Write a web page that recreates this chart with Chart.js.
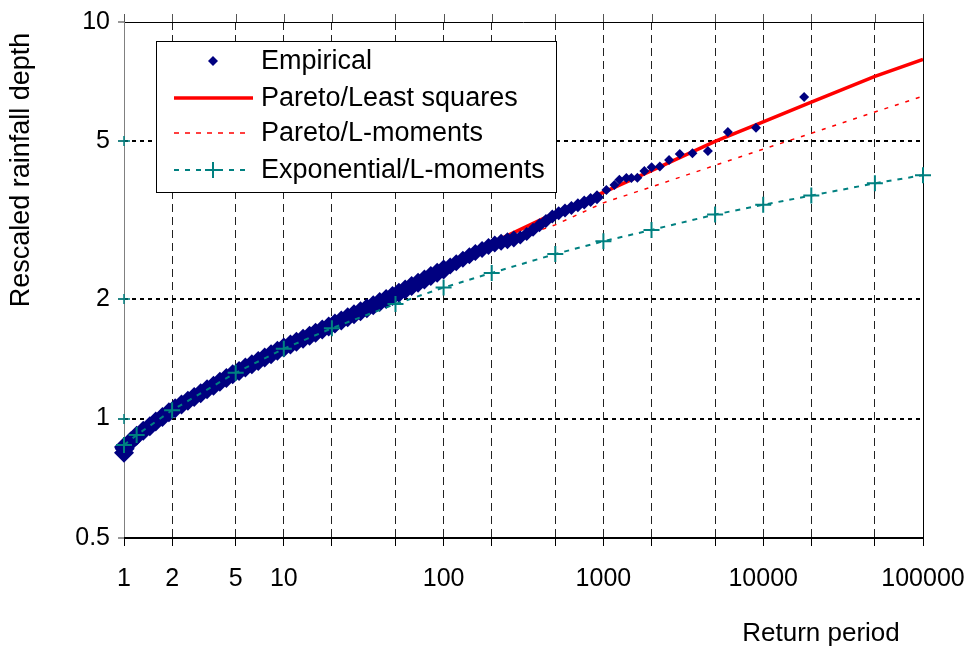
<!DOCTYPE html>
<html>
<head>
<meta charset="utf-8">
<script src="https://cdn.jsdelivr.net/npm/chart.js@4.4.1/dist/chart.umd.min.js"></script>
<style>
  html, body { margin: 0; padding: 0; background: #fff; }
  #wrap { width: 973px; height: 649px; }
</style>
</head>
<body>
<div id="wrap"><canvas id="rainChart" width="973" height="649"></canvas></div>
<script>
// --- data: return period (years) vs rescaled rainfall depth ---
const empT = [
  1, 1.01,
  1, 1.1, 1.2, 1.32, 1.45, 1.58, 1.74, 1.91, 2.09, 2.29,
  2.51, 2.75, 3.02, 3.31, 3.63, 3.98, 4.37, 4.79, 5.25, 5.75,
  6.31, 6.92, 7.59, 8.32, 9.12, 10, 11, 12, 13.2, 14.5,
  15.8, 17.4, 19.1, 20.9, 22.9, 25.1, 27.5, 30.2, 33.1, 36.3,
  39.8, 43.7, 47.9, 52.5, 57.5, 63.1, 69.2, 75.9, 83.2, 91.2,
  100, 110, 120, 132, 145, 158, 174, 191, 209, 229,
  251, 275, 302, 331, 363, 398, 437, 479, 525, 575,
  631, 692, 759, 832, 912,
  1044, 1172, 1259, 1393, 1496, 1632, 1804, 2003, 2254, 2576,
  3005, 3606, 4508, 6010, 9015, 18030
];
const empY = [
  0.82, 0.84,
  0.848, 0.876, 0.905, 0.932, 0.957, 0.983, 1.010, 1.037, 1.062, 1.086,
  1.110, 1.134, 1.159, 1.185, 1.211, 1.238, 1.265, 1.293, 1.319, 1.345,
  1.371, 1.398, 1.426, 1.454, 1.482, 1.511, 1.537, 1.563, 1.590, 1.618,
  1.647, 1.677, 1.707, 1.737, 1.768, 1.800, 1.832, 1.865, 1.898, 1.932,
  1.967, 2.002, 2.038, 2.077, 2.117, 2.158, 2.200, 2.243, 2.287, 2.331,
  2.377, 2.425, 2.473, 2.522, 2.573, 2.624, 2.671, 2.718, 2.754, 2.782,
  2.808, 2.835, 2.862, 2.919, 2.995, 3.072, 3.151, 3.233, 3.295, 3.346,
  3.398, 3.451, 3.505, 3.560, 3.615,
  3.77, 3.88, 4.00, 4.04, 4.04, 4.05, 4.21, 4.30, 4.32, 4.49,
  4.65, 4.67, 4.73, 5.28, 5.41, 6.47
];

const fitT = [1, 2, 5, 10, 20, 50, 100, 200, 500, 1000, 2000, 5000, 10000, 20000, 50000, 100000];
const paretoLsY = [0.85, 1.05, 1.30, 1.50, 1.72, 2.04, 2.36, 2.77, 3.30, 3.72, 4.22, 5.00, 5.60, 6.28, 7.29, 8.05];
const paretoLmY = [0.85, 1.05, 1.31, 1.51, 1.73, 2.05, 2.35, 2.71, 3.08, 3.50, 3.84, 4.35, 4.78, 5.24, 5.93, 6.50];

const expT = [1, 1.2, 2, 5, 10, 20, 50, 100, 200, 500, 1000, 2000, 5000, 10000, 20000, 50000, 100000];
const expY = [0.858, 0.909, 1.05, 1.305, 1.50, 1.69, 1.945, 2.14, 2.33, 2.60, 2.80, 2.99, 3.27, 3.46, 3.65, 3.92, 4.11];

const xTicks = [1, 2, 5, 10, 20, 50, 100, 200, 500, 1000, 2000, 5000, 10000, 20000, 50000, 100000];
const xLabels = [1, 2, 5, 10, 100, 1000, 10000, 100000];
const yTicks = [0.5, 1, 2, 5, 10];
const yCrossTicks = [1, 2, 5];

const NAVY = '#000080', RED = '#ff0000', TEAL = '#008080';
const FONT = 'Arial, "Liberation Sans", sans-serif';

const pts = (xs, ys) => xs.map((x, i) => ({ x: x, y: ys[i] }));

// the observations overlap into a solid band where they are dense
const empRadius = c => {
  const t = c.raw ? c.raw.x : 1;
  if (t <= 100) return 10;
  if (t <= 300) return 8.5;
  if (t <= 950) return 7;
  return 5;
};

// axis frame, little teal crosses on the y axis, titles and the boxed legend
const decorations = {
  id: 'decorations',
  beforeDatasetsDraw(chart) {
    const { ctx, chartArea: a, scales: { x } } = chart;
    ctx.save();
    ctx.lineWidth = 1;
    ctx.strokeStyle = '#555';
    xTicks.forEach(v => {
      const px = Math.round(x.getPixelForValue(v)) + 0.5;
      ctx.beginPath(); ctx.moveTo(px, a.top - 8); ctx.lineTo(px, a.top); ctx.stroke();
    });
    ctx.strokeStyle = '#000';
    ctx.beginPath();
    ctx.moveTo(a.left, a.top + 0.5); ctx.lineTo(a.right, a.top + 0.5);
    ctx.moveTo(a.right + 0.5, a.top); ctx.lineTo(a.right + 0.5, a.bottom);
    ctx.stroke();
    ctx.strokeStyle = '#808080';
    ctx.beginPath(); ctx.moveTo(a.left + 0.5, a.top); ctx.lineTo(a.left + 0.5, a.bottom); ctx.stroke();
    ctx.strokeStyle = '#000'; ctx.lineWidth = 2;
    ctx.beginPath(); ctx.moveTo(a.left, a.bottom); ctx.lineTo(a.right + 1, a.bottom); ctx.stroke();
    ctx.restore();
  },
  afterDraw(chart) {
    const { ctx, chartArea: a, scales: { y } } = chart;
    ctx.save();
    // crosses on the left axis
    ctx.strokeStyle = TEAL; ctx.lineWidth = 1.5;
    yCrossTicks.forEach(v => {
      const py = Math.round(y.getPixelForValue(v));
      ctx.beginPath();
      ctx.moveTo(a.left - 6, py); ctx.lineTo(a.left + 6, py);
      ctx.moveTo(a.left, py - 5); ctx.lineTo(a.left, py + 5);
      ctx.stroke();
    });

    // axis titles
    ctx.fillStyle = '#000';
    ctx.textAlign = 'center'; ctx.textBaseline = 'middle';
    ctx.font = '26px ' + FONT;
    ctx.fillText('Return period', 821, 634);
    ctx.save();
    ctx.font = '27px ' + FONT;
    ctx.translate(22, 170); ctx.rotate(-Math.PI / 2);
    ctx.fillText('Rescaled rainfall depth', 0, 0);
    ctx.restore();

    // legend box
    const lx = 156, ly = 41, lw = 400, lh = 151;
    ctx.fillStyle = '#fff'; ctx.fillRect(lx, ly, lw, lh);
    ctx.strokeStyle = '#000'; ctx.lineWidth = 1;
    ctx.strokeRect(lx + 0.5, ly + 0.5, lw, lh);

    const rows = [
      { text: 'Empirical', y: 61, kind: 'diamond' },
      { text: 'Pareto/Least squares', y: 98, kind: 'solid' },
      { text: 'Pareto/L-moments', y: 133, kind: 'dotted' },
      { text: 'Exponential/L-moments', y: 170, kind: 'cross' }
    ];
    const s0 = 174, s1 = 253, sc = 213;
    rows.forEach(r => {
      ctx.save();
      if (r.kind === 'diamond') {
        ctx.fillStyle = NAVY;
        ctx.beginPath();
        ctx.moveTo(sc, r.y - 5); ctx.lineTo(sc + 5, r.y); ctx.lineTo(sc, r.y + 5); ctx.lineTo(sc - 5, r.y);
        ctx.closePath(); ctx.fill();
      } else if (r.kind === 'solid') {
        ctx.strokeStyle = RED; ctx.lineWidth = 3.5;
        ctx.beginPath(); ctx.moveTo(s0, r.y); ctx.lineTo(s1, r.y); ctx.stroke();
      } else if (r.kind === 'dotted') {
        ctx.strokeStyle = RED; ctx.lineWidth = 1.5; ctx.setLineDash([5, 6]);
        ctx.beginPath(); ctx.moveTo(s0, r.y); ctx.lineTo(s1 - 6, r.y); ctx.stroke();
      } else {
        ctx.strokeStyle = TEAL; ctx.lineWidth = 2; ctx.setLineDash([5, 6]);
        ctx.beginPath(); ctx.moveTo(s0, r.y); ctx.lineTo(s1 - 6, r.y); ctx.stroke();
        ctx.setLineDash([]);
        ctx.beginPath();
        ctx.moveTo(sc - 8, r.y); ctx.lineTo(sc + 8, r.y);
        ctx.moveTo(sc, r.y - 8); ctx.lineTo(sc, r.y + 8);
        ctx.stroke();
      }
      ctx.restore();
      ctx.fillStyle = '#000';
      ctx.font = '27px ' + FONT;
      ctx.textAlign = 'left'; ctx.textBaseline = 'middle';
      ctx.fillText(r.text, 261, r.y + 1);
    });
    ctx.restore();
  }
};

new Chart(document.getElementById('rainChart'), {
  type: 'scatter',
  data: {
    datasets: [
      {
        label: 'Exponential/L-moments',
        data: pts(expT, expY),
        showLine: true,
        borderColor: TEAL,
        borderWidth: 2,
        borderDash: [5, 6],
        pointStyle: 'cross',
        pointRadius: 8,
        pointBorderWidth: 2,
        pointBorderColor: TEAL,
        clip: false,
        order: 0
      },
      {
        label: 'Empirical',
        data: pts(empT, empY),
        showLine: false,
        pointStyle: 'rectRot',
        pointRadius: empRadius,
        pointBorderWidth: 0,
        backgroundColor: NAVY,
        borderColor: NAVY,
        clip: false,
        order: 1
      },
      {
        label: 'Pareto/L-moments',
        data: pts(fitT, paretoLmY),
        showLine: true,
        borderColor: RED,
        borderWidth: 1.5,
        borderDash: [4, 7],
        pointRadius: 0,
        order: 2
      },
      {
        label: 'Pareto/Least squares',
        data: pts(fitT, paretoLsY),
        showLine: true,
        borderColor: RED,
        borderWidth: 3.5,
        pointRadius: 0,
        order: 3
      }
    ]
  },
  options: {
    responsive: false,
    devicePixelRatio: 1,
    animation: false,
    events: [],
    layout: { padding: { left: 0, top: 22, right: 50, bottom: 0 } },
    plugins: { legend: { display: false }, tooltip: { enabled: false } },
    scales: {
      x: {
        type: 'logarithmic',
        min: 1,
        max: 100000,
        afterBuildTicks: s => { s.ticks = xTicks.map(v => ({ value: v })); },
        afterFit: s => { s.height = 111; s.paddingLeft = 0; s.paddingRight = 0; },
        border: { display: false, dash: [8, 5] },
        grid: {
          color: c => (c.tick && (c.tick.value === 1 || c.tick.value === 100000)) ? 'rgba(0,0,0,0)' : '#222',
          lineWidth: 1,
          tickLength: 8,
          tickColor: '#000',
          tickWidth: 1
        },
        ticks: {
          autoSkip: false,
          maxRotation: 0,
          padding: 18,
          color: '#000',
          font: { family: FONT, size: 25 },
          callback: v => xLabels.includes(v) ? String(v) : ''
        }
      },
      y: {
        type: 'logarithmic',
        min: 0.5,
        max: 10,
        afterBuildTicks: s => { s.ticks = yTicks.map(v => ({ value: v })); },
        afterFit: s => { s.width = 124; s.paddingTop = 0; s.paddingBottom = 0; },
        border: { display: false, dash: [4, 4] },
        grid: {
          color: c => (c.tick && yCrossTicks.includes(c.tick.value)) ? '#000' : 'rgba(0,0,0,0)',
          lineWidth: 2,
          tickLength: 6,
          tickColor: '#333',
          tickWidth: 1
        },
        ticks: {
          padding: 8,
          color: '#000',
          font: { family: FONT, size: 25 },
          callback: v => String(v)
        }
      }
    }
  },
  plugins: [decorations]
});
</script>
</body>
</html>
